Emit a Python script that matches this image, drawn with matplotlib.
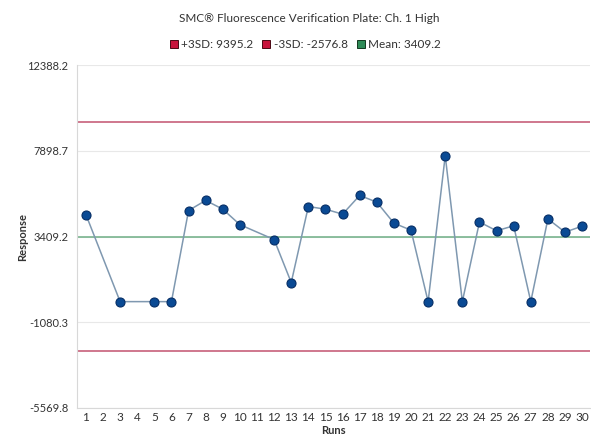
import numpy as np
import matplotlib.pyplot as plt
import matplotlib as mpl
from matplotlib.lines import Line2D

mpl.rcParams['font.family'] = ['Lato', 'DejaVu Sans']

# data (runs 2, 4 and 11 have no value)
runs = [1, 3, 5, 6, 7, 8, 9, 10, 12, 13, 14, 15, 16, 17, 18, 19, 20,
        21, 22, 23, 24, 25, 26, 27, 28, 29, 30]
response = [4560, 0, 0, 0, 4770, 5300, 4840, 4030, 3250, 1000, 4980, 4840,
            4580, 5560, 5210, 4110, 3740, 0, 7640, 0, 4170, 3710, 3970, 0,
            4330, 3640, 3950]
plus3sd = 9395.2
minus3sd = -2576.8
mean = 3409.2
yticks = [-5569.8, -1080.3, 3409.2, 7898.7, 12388.2]

fig = plt.figure(figsize=(5.91, 4.38), dpi=100)
ax = fig.add_axes([0.130, 0.0685, 0.868, 0.783])

for y in yticks:
    ax.axhline(y, color='#e8e8e8', lw=0.8, zorder=0)
ax.axhline(plus3sd, color='#c7607a', lw=1.2, zorder=1)
ax.axhline(minus3sd, color='#c7607a', lw=1.2, zorder=1)
ax.axhline(mean, color='#79b48e', lw=1.2, zorder=1)

ax.plot(runs, response, color='#7f98b0', lw=1.1, zorder=2)
ax.plot(runs, response, 'o', ms=6.5, color='#0a4a94', mec='#062e66',
        mew=0.8, zorder=3)

ax.set_xlim(0.47, 30.45)
ax.set_ylim(yticks[0], yticks[-1])
ax.set_yticks(yticks)
ax.set_yticklabels([f'{v:.1f}' for v in yticks])
ax.set_xticks(range(1, 31))
ax.tick_params(axis='both', length=0, labelsize=8, colors='#333333')
ax.tick_params(axis='y', pad=6)
ax.tick_params(axis='x', labelsize=8.5, pad=3)
for side in ['top', 'right']:
    ax.spines[side].set_visible(False)
for side in ['left', 'bottom']:
    ax.spines[side].set_color('#d8d8d8')
    ax.spines[side].set_linewidth(0.8)

ax.set_xlabel('Runs', fontsize=8, fontweight='bold', color='#333333', labelpad=1)
ax.set_ylabel('Response', fontsize=8, fontweight='bold', color='#333333')
ax.yaxis.set_label_coords(-0.095, 0.5)

fig.text(0.523, 0.957, 'SMC® Fluorescence Verification Plate: Ch. 1 High',
         ha='center', va='center', fontsize=8.5, color='#333333')

handles = [
    Line2D([], [], ls='', marker='s', ms=6, color='#c8143c', mec='#4a0a14', mew=0.7),
    Line2D([], [], ls='', marker='s', ms=6, color='#c8143c', mec='#4a0a14', mew=0.7),
    Line2D([], [], ls='', marker='s', ms=6, color='#2e8b57', mec='#12381f', mew=0.7),
]
labels = ['+3SD: 9395.2', '-3SD: -2576.8', 'Mean: 3409.2']
fig.legend(handles, labels, loc='center', bbox_to_anchor=(0.515, 0.899), ncol=3,
           frameon=False, fontsize=8.5, handletextpad=0.1, columnspacing=0.6,
           handlelength=1.0, labelcolor='#333333')

plt.savefig('out.png', dpi=100)
